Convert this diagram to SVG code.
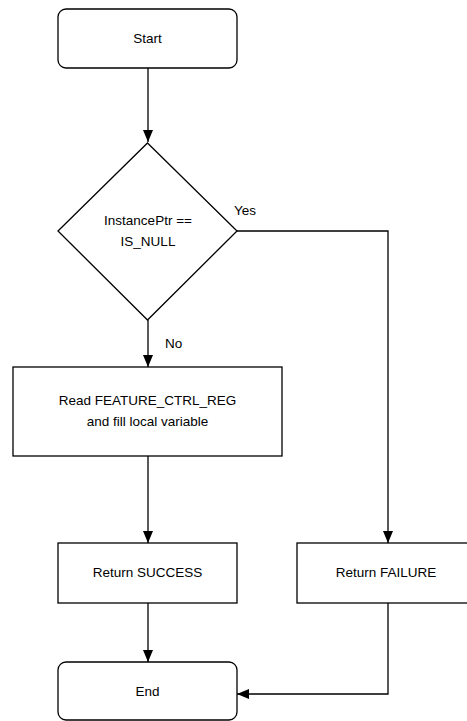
<svg xmlns="http://www.w3.org/2000/svg" width="467" height="721" viewBox="0 0 467 721">
  <style>
    .shape { fill: #ffffff; stroke: #000000; stroke-width: 1.3; }
    .link { fill: none; stroke: #000000; stroke-width: 1.3; }
    text { font-family: "Liberation Sans", Arial, sans-serif; font-size: 13.5px; fill: #000000; }
    .c { text-anchor: middle; }
  </style>
  <defs>
    <marker id="arrow" viewBox="0 0 12 10" refX="12" refY="5" markerWidth="12" markerHeight="10" markerUnits="userSpaceOnUse" orient="auto">
      <path d="M0,0 L12,5 L0,10 Z" fill="#000000"/>
    </marker>
  </defs>
  <rect width="467" height="721" fill="#ffffff"/>

  <g id="connectors">
    <path class="link" d="M148,68 V142" marker-end="url(#arrow)"/>
    <path class="link" d="M237,231 H388 V543" marker-end="url(#arrow)"/>
    <path class="link" d="M148,320 V367" marker-end="url(#arrow)"/>
    <path class="link" d="M148,456 V543" marker-end="url(#arrow)"/>
    <path class="link" d="M148,603 V662" marker-end="url(#arrow)"/>
    <path class="link" d="M388,603 V694 H237" marker-end="url(#arrow)"/>
    <text x="234" y="215">Yes</text>
    <text x="165" y="348">No</text>
  </g>

  <g id="start">
    <rect class="shape" x="58" y="9" width="179" height="59" rx="8"/>
    <text class="c" x="147.5" y="43">Start</text>
  </g>

  <g id="check-instance">
    <path class="shape" d="M147.5,143 L237,231 L147.5,320 L58,231 Z"/>
    <text class="c" x="148" y="225">InstancePtr ==</text>
    <text class="c" x="148" y="246">IS_NULL</text>
  </g>

  <g id="read-register">
    <rect class="shape" x="13" y="367" width="269" height="89"/>
    <text class="c" x="147.5" y="405">Read FEATURE_CTRL_REG</text>
    <text class="c" x="147.5" y="426">and fill local variable</text>
  </g>

  <g id="return-success">
    <rect class="shape" x="58" y="543" width="179" height="60"/>
    <text class="c" x="147.5" y="577">Return SUCCESS</text>
  </g>

  <g id="return-failure">
    <rect class="shape" x="297" y="543" width="182" height="60"/>
    <text class="c" x="386" y="577">Return FAILURE</text>
  </g>

  <g id="end">
    <rect class="shape" x="58" y="662" width="179" height="58" rx="8"/>
    <text class="c" x="147.5" y="696">End</text>
  </g>
</svg>
